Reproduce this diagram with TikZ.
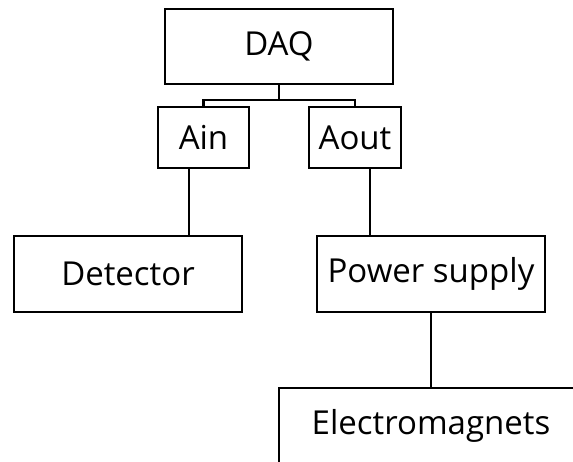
\documentclass[tikz,border=0pt]{standalone}
\usepackage{fontspec}
\setmainfont{Open Sans}
\begin{document}
\begin{tikzpicture}[x=1pt,y=-1pt,
  box/.style={draw,line width=2.6pt,inner sep=0pt,font=\fontsize{33}{38}\selectfont},
  wire/.style={line width=2.6pt}]
\useasboundingbox (0,0) rectangle (573,462);
\clip (0,0) rectangle (573,462);
\node[box,minimum width=228pt,minimum height=75pt] (daq) at (279,46.5) {DAQ};
\node[box,minimum width=91pt,minimum height=61pt] (ain) at (203.5,137.5) {Ain};
\node[box,minimum width=92pt,minimum height=61pt] (aout) at (355,137.5) {Aout};
\node[box,minimum width=228pt,minimum height=76pt] (det) at (128,274) {Detector};
\node[box,minimum width=228pt,minimum height=76pt] (ps) at (431,274) {Power supply};
\node[box,minimum width=304pt,minimum height=76pt] (em) at (431,426) {Electromagnets};
\coordinate (j) at (279,100);
\draw[wire] (daq.south) -- (j);
\draw[wire] (ain.north) |- (j) -| (aout.north);
\draw[wire] ([xshift=-14.5pt]ain.south) -- ([xshift=-14.5pt]ain.south |- det.north);
\draw[wire] ([xshift=15pt]aout.south) -- ([xshift=15pt]aout.south |- ps.north);
\draw[wire] (ps.south) -- (em.north);
\end{tikzpicture}
\end{document}
